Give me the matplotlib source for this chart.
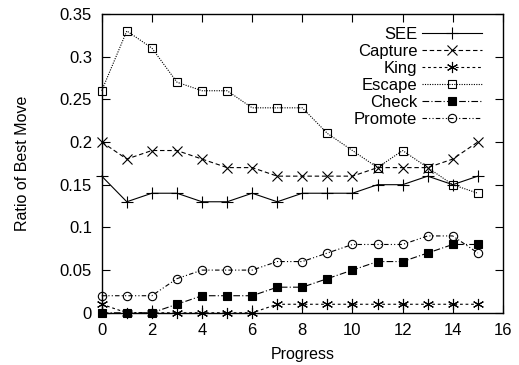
import matplotlib
matplotlib.use("Agg")
import matplotlib.pyplot as plt
from matplotlib.ticker import FormatStrFormatter, MultipleLocator

progress = list(range(16))
see = [0.16, 0.13, 0.14, 0.14, 0.13, 0.13, 0.14, 0.13, 0.14, 0.14, 0.14, 0.15, 0.15, 0.16, 0.15, 0.16]
capture = [0.20, 0.18, 0.19, 0.19, 0.18, 0.17, 0.17, 0.16, 0.16, 0.16, 0.16, 0.17, 0.17, 0.17, 0.18, 0.20]
king = [0.01, 0, 0, 0, 0, 0, 0, 0.01, 0.01, 0.01, 0.01, 0.01, 0.01, 0.01, 0.01, 0.01]
escape = [0.26, 0.33, 0.31, 0.27, 0.26, 0.26, 0.24, 0.24, 0.24, 0.21, 0.19, 0.17, 0.19, 0.17, 0.15, 0.14]
check = [0, 0, 0, 0.01, 0.02, 0.02, 0.02, 0.03, 0.03, 0.04, 0.05, 0.06, 0.06, 0.07, 0.08, 0.08]
promote = [0.02, 0.02, 0.02, 0.04, 0.05, 0.05, 0.05, 0.06, 0.06, 0.07, 0.08, 0.08, 0.08, 0.09, 0.09, 0.07]

plt.rcParams.update({
    "font.family": "Liberation Sans",
    "font.size": 11.5,
})

fig = plt.figure(figsize=(5.19, 3.65), dpi=100)
ax = fig.add_axes([0.196, 0.143, 0.773, 0.819])

lw = 0.8
common = dict(color="black", linewidth=lw, clip_on=False, markeredgewidth=0.8)
ax.plot(progress, see, linestyle="-", marker="+", markersize=9, label="SEE", **common)
ax.plot(progress, capture, linestyle=(0, (4, 2.5)), marker="x", markersize=7, label="Capture", **common)
ax.plot(progress, king, linestyle=(0, (2.5, 2.5)), marker=(6, 2, 0), markersize=8, label="King", **common)
ax.plot(progress, escape, linestyle=(0, (1, 1.2)), marker="s", markersize=6,
        markerfacecolor="none", label="Escape", **common)
ax.plot(progress, check, linestyle=(0, (6, 2, 1, 2)), marker="s", markersize=6,
        markerfacecolor="black", label="Check", **common)
ax.plot(progress, promote, linestyle=(0, (4, 2, 1, 2, 1, 2)), marker="o", markersize=6,
        markerfacecolor="none", label="Promote", **common)

ax.set_xlim(0, 16)
ax.set_ylim(0, 0.35)
ax.xaxis.set_major_locator(MultipleLocator(2))
ax.yaxis.set_major_locator(MultipleLocator(0.05))
ax.yaxis.set_major_formatter(FormatStrFormatter("%g"))
ax.tick_params(direction="in", length=6, width=0.8, top=True, right=True,
               pad=7, labelsize=12)
for s in ax.spines.values():
    s.set_linewidth(1.0)

ax.set_xlabel("Progress", labelpad=7)
ax.set_ylabel("Ratio of Best Move", labelpad=21)

ax.legend(loc="upper right", bbox_to_anchor=(0.965, 0.98), borderaxespad=0,
          frameon=False, markerfirst=False, handlelength=3.6,
          labelspacing=0.12, handletextpad=0.3, fontsize=12)

fig.savefig("out.png", dpi=100)
